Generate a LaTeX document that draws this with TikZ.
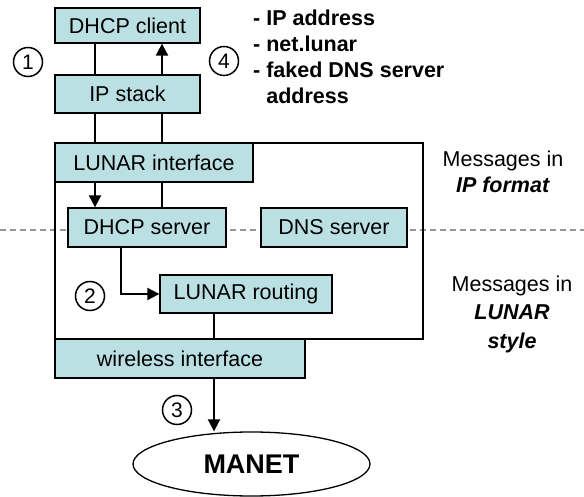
\documentclass[tikz,border=0pt]{standalone}
\usepackage{fontspec}
\setmainfont{Liberation Sans}
\usetikzlibrary{arrows.meta,shapes.geometric}

\definecolor{layerfill}{RGB}{187,224,227}
\definecolor{sepgray}{RGB}{150,150,150}

\tikzset{
  layer/.style={draw,fill=layerfill,line width=1.3pt,inner sep=0pt,
    font=\fontsize{21.5}{25}\selectfont},
  link/.style={line width=2pt},
  flow/.style={line width=2pt,-{Triangle[width=12pt,length=12pt]}},
  stepno/.style={circle,draw,line width=1.5pt,minimum size=29pt,inner sep=0pt,
    font=\fontsize{21}{24}\selectfont},
}

\begin{document}
\begin{tikzpicture}[x=1pt,y=-1pt]
    \useasboundingbox (0,0) rectangle (584,497);

    % Draw separator between the two message formats
    \coordinate (sepL) at (0,230);
    \coordinate (sepR) at (584,230);
    \draw[sepgray,line width=2pt,dash pattern=on 6pt off 4pt] (sepL) -- (sepR);

    % Draw LUNAR container
    \node[draw,line width=1.3pt,minimum width=368pt,minimum height=196pt,inner sep=0pt]
      (lunarbox) at (239,241) {};

    % Draw layers
    \node[layer,minimum width=145pt,minimum height=35pt] (client) at (127.5,25.5) {DHCP client};
    \node[layer,minimum width=145pt,minimum height=38pt] (ipstack) at (127.5,94) {IP stack};
    \node[layer,minimum width=198pt,minimum height=39pt] (lunarif) at (154,162.5) {LUNAR interface};
    \node[layer,minimum width=158pt,minimum height=39pt] (dhcpsrv) at (147,227.5) {DHCP server};
    \node[layer,minimum width=146pt,minimum height=39pt] (dnssrv) at (334,227.5) {DNS server};
    \node[layer,minimum width=172pt,minimum height=38pt] (routing) at (246,294) {LUNAR routing};
    \node[layer,minimum width=250pt,minimum height=39pt] (wireless) at (180,358.5) {wireless interface};
    \node[draw,ellipse,line width=1.3pt,minimum width=237pt,minimum height=64pt,inner sep=0pt,
      font=\bfseries\fontsize{27}{30}\selectfont] (manet) at (251.5,464) {MANET};

    % Lanes of the connectors
    \coordinate (laneA) at (95,0);
    \coordinate (laneB) at (162,0);
    \coordinate (laneC) at (121,0);
    \coordinate (laneD) at (214,0);

    % Draw connectors
    \draw[link] (client.south -| laneA) -- (ipstack.north -| laneA);
    \draw[flow] (ipstack.north -| laneB) -- (client.south -| laneB);
    \draw[link] (ipstack.south -| laneA) -- (lunarif.north -| laneA);
    \draw[link] (ipstack.south -| laneB) -- (lunarif.north -| laneB);
    \draw[flow] (lunarif.south -| laneA) -- (dhcpsrv.north -| laneA);
    \draw[link] (dhcpsrv.north -| laneB) -- (lunarif.south -| laneB);
    \draw[flow] (dhcpsrv.south -| laneC) |- (routing.west);
    \draw[link] (routing.south -| laneD) -- (wireless.north -| laneD);
    \draw[flow] (wireless.south -| laneD) -- (manet.north -| laneD);

    % Step numbers
    \node[stepno] (one) at (28,62) {1};
    \node[stepno] (two) at (90,296) {2};
    \node[stepno] (three) at (177,410) {3};
    \node[stepno] (four) at (224,61) {4};

    % Reply contents
    \node[anchor=base west,align=left,inner sep=0pt,
      font=\bfseries\fontsize{21.5}{26}\selectfont] (reply) at (253,104)
      {- IP address\\- net.lunar\\- faked DNS server\\\phantom{- }address};

    % Message formats
    \node[anchor=base,align=center,inner sep=0pt,font=\fontsize{21.5}{26}\selectfont]
      (ipfmt) at (503,193) {Messages in\\\textbf{\textit{IP format}}};
    \node[anchor=base,align=center,inner sep=0pt,font=\fontsize{21.5}{28.5}\selectfont]
      (lunarfmt) at (512,348) {Messages in\\\textbf{\textit{LUNAR}}\\\textbf{\textit{style}}};
\end{tikzpicture}
\end{document}
